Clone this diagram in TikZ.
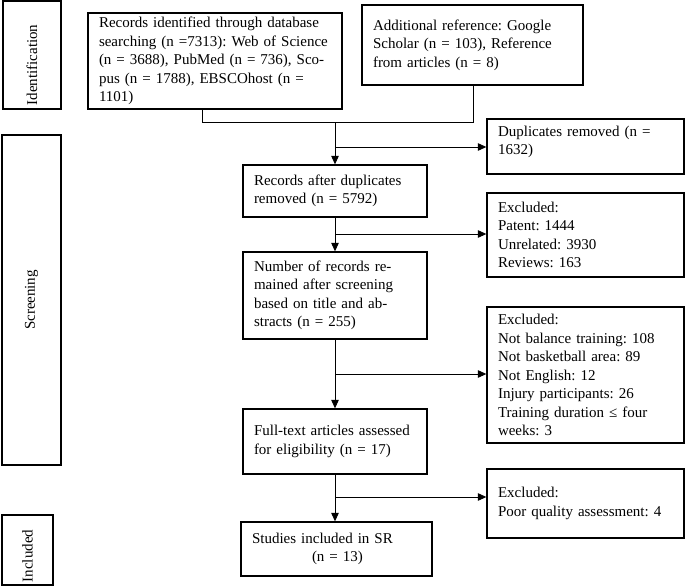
\documentclass[tikz,border=0pt]{standalone}
\usepackage{fontspec}
\setmainfont{Liberation Serif}
\usetikzlibrary{arrows.meta}
\frenchspacing
\tikzset{
  bx/.style={draw, line width=1.3pt, inner xsep=11pt, inner ysep=0pt, align=left,
    font=\fontsize{15}{18.5}\selectfont\frenchspacing, anchor=center},
  side/.style={draw, line width=1.3pt, inner sep=0pt, rotate=90,
    font=\fontsize{15}{18.5}\selectfont, anchor=center},
  conn/.style={line width=0.9pt},
  arr/.style={line width=0.9pt, -{Triangle[length=8.5pt,width=7.5pt]}}
}
\begin{document}
\begin{tikzpicture}[x=1pt,y=-1pt]
\useasboundingbox (0,0) rectangle (685,586);
% side boxes
\node[side, minimum width=108pt, minimum height=58pt] (ident) at (32,55) {Identification\hspace*{20pt}};
\node[side, minimum width=330pt, minimum height=59pt] (screen) at (31.5,300) {Screening};
\node[side, minimum width=70pt, minimum height=51pt] (incl) at (27.5,550) {Included\hspace*{12pt}};
% main boxes
\node[bx, text width=232pt, minimum height=96pt] (rec) at (215,61)
  {Records identified through database\\searching (n =7313): Web of Science\\(n = 3688), PubMed (n = 736), Sco-\\pus (n = 1788), EBSCOhost (n =\\1101)};
\node[bx, text width=199pt, minimum height=80pt] (add) at (472.5,45)
  {Additional reference: Google\\Scholar (n = 103), Reference\\from articles (n = 8)};
\node[bx, text width=162pt, minimum height=52pt] (rad) at (335,191)
  {Records after duplicates\\removed (n = 5792)};
\node[bx, text width=175pt, minimum height=55pt] (dup) at (585.5,146.5)
  {Duplicates removed (n =\\1632)\\[-6.5pt]\mbox{}};
\node[bx, text width=175pt, minimum height=84pt] (ex1) at (585.5,235)
  {Excluded:\\Patent: 1444\\Unrelated: 3930\\Reviews: 163};
\node[bx, text width=162pt, minimum height=87pt] (num) at (335,295.5)
  {Number of records re-\\mained after screening\\based on title and ab-\\stracts (n = 255)};
\node[bx, text width=175pt, minimum height=136pt] (ex2) at (585.5,375)
  {Excluded:\\Not balance training: 108\\Not basketball area: 89\\Not English: 12\\Injury participants: 26\\Training duration ≤ four\\weeks: 3};
\node[bx, text width=162pt, minimum height=65pt] (full) at (335,441.5)
  {Full-text articles assessed\\for eligibility (n = 17)};
\node[bx, text width=175pt, minimum height=69pt] (ex3) at (585.5,503.5)
  {Excluded:\\Poor quality assessment: 4};
\node[bx, text width=169pt, minimum height=54pt] (stud) at (336.5,549)
  {Studies included in SR\\\hspace*{60pt}(n = 13)};
% connectors
\coordinate (j1) at (202,122);
\coordinate (j2) at (473,122);
\coordinate (jt) at (335,122);
\draw[conn] (j1 |- rec.south) -- (j1) -- (j2) -- (j2 |- add.south);
\draw[arr] (jt) -- (rad.north);
\coordinate (b1) at (335,147);
\draw[arr] (b1) -- (b1 -| dup.west);
\draw[arr] (rad.south) -- (num.north);
\coordinate (b2) at (335,234);
\draw[arr] (b2) -- (b2 -| ex1.west);
\draw[arr] (num.south) -- (full.north);
\coordinate (b3) at (335,374);
\draw[arr] (b3) -- (b3 -| ex2.west);
\draw[arr] (full.south) -- (full.south |- stud.north);
\coordinate (b4) at (335,497);
\draw[arr] (b4) -- (b4 -| ex3.west);
\end{tikzpicture}
\end{document}
